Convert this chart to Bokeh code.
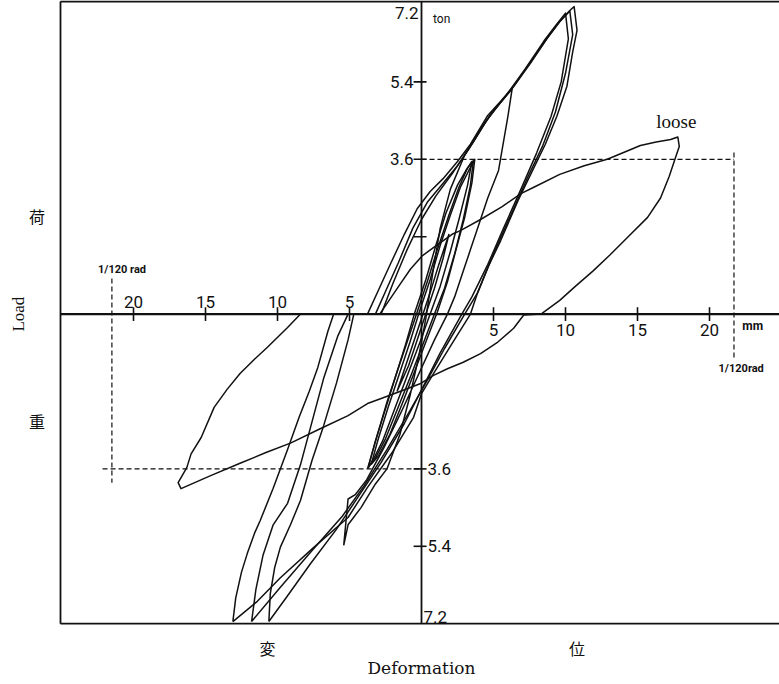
from bokeh.plotting import figure
from bokeh.models import Range1d
from bokeh.embed import file_html
from bokeh.resources import INLINE
from bokeh.core.properties import value

# ---------------- data: load (ton) against deformation (mm) ----------------
# "loose" cycle
LOOSE_X = [-2.9, -1.46, -0.76, 0.07, 0.85, 2.2, 2.7, 4.1, 5.6, 6.9, 7.8, 9.6, 11.3, 12.9,
           14.2, 15.2, 16.3, 17.3, 17.8, 17.9, 17.6, 17.2, 16.6, 15.7, 14.3, 13.1, 11.9,
           10.7, 9.6, 8.3, 7.1, 6.4, 5.3, 4.1, 2.9, 1.8, 0.8, -0.1, -1.5, -2.85, -3.75,
           -5.1, -7.0, -9.1, -10.8, -12.6, -14.6, -16.7, -16.9, -16.3, -16.0, -15.3, -14.4,
           -13.5, -12.6, -11.6, -10.7, -9.3, -8.4, -2.9]
LOOSE_Y = [0.0, 0.71, 1.05, 1.36, 1.55, 1.87, 1.94, 2.2, 2.5, 2.8, 2.95, 3.25, 3.45, 3.6,
           3.78, 3.92, 4.0, 4.06, 4.12, 3.9, 3.6, 3.2, 2.7, 2.25, 1.78, 1.38, 1.0,
           0.65, 0.32, 0.0, -0.02, -0.33, -0.65, -0.92, -1.12, -1.27, -1.43, -1.62, -1.8, -1.97, -2.08,
           -2.36, -2.66, -3.0, -3.22, -3.47, -3.75, -4.06, -3.92, -3.57, -3.25, -2.87, -2.17,
           -1.75, -1.38, -1.05, -0.77, -0.31, 0.0, 0.0]

# 7.2 ton cycles
BIG1_X = [-13.1, -12.9, -12.5, -12.1, -11.6, -11.2, -10.3, -9.3, -8.5, -7.8, -7.2, -6.5, -6.1,
          -3.75, -3.0, -2.15, -1.2, -0.3, 0.6, 1.5, 2.5, 3.4, 4.6, 5.5, 6.4, 7.8, 8.8, 9.65,
          10.3, 10.6, 10.8, 10.5, 10.1, 9.4, 8.6, 7.8, 6.7, 5.5, 4.6, 3.9, 3.4, 2.0, 0.8, 0.0,
          -0.55, -2.0, -3.75, -5.1, -7.5, -9.8, -11.4, -13.1]
BIG1_Y = [-7.15, -6.6, -6.0, -5.57, -5.1, -4.8, -4.05, -3.15, -2.4, -1.8, -1.24, -0.4, 0.0,
          0.0, 0.55, 1.17, 1.85, 2.45, 2.85, 3.15, 3.55, 3.95, 4.62, 4.95, 5.3, 5.97, 6.45, 6.83,
          7.06, 7.15, 6.6, 6.1, 5.3, 4.6, 3.95, 3.4, 2.64, 1.71, 1.08, 0.5, 0.0, -0.75, -1.4, -1.85,
          -2.4, -3.2, -4.03, -4.73, -5.43, -6.13, -6.68, -7.15]

BIG2_X = [-11.8, -11.5, -11.0, -10.3, -9.3, -8.4, -7.6, -6.8, -5.8, -5.1, -3.2, -2.4, -1.6,
          -0.6, 0.4, 1.4, 2.5, 3.6, 4.8, 6.2, 7.6, 8.7, 9.6, 10.3, 10.5, 10.0, 9.3, 8.4, 7.4,
          6.2, 5.0, 3.9, 3.0, 1.6, 0.3, -0.9, -2.4, -4.0, -5.5, -7.6, -9.8, -11.8]
BIG2_Y = [-7.15, -6.4, -5.6, -4.9, -4.4, -3.5, -2.5, -1.5, -0.5, 0.0, 0.0, 0.6, 1.2,
          2.0, 2.6, 3.0, 3.45, 4.0, 4.65, 5.2, 5.85, 6.4, 6.8, 7.05, 6.5, 5.6, 4.7, 3.9, 3.2,
          2.3, 1.4, 0.5, 0.0, -0.8, -1.6, -2.3, -3.15, -4.0, -4.7, -5.5, -6.35, -7.15]

BIG3_X = [-10.6, -10.5, -10.2, -9.8, -9.1, -8.4, -7.6, -6.8, -5.9, -5.1, -4.7, -2.8, -2.0,
          -1.0, 0.0, 1.0, 2.2, 3.3, 4.5, 5.8, 7.2, 8.5, 9.4, 10.0, 10.2, 9.7, 9.0, 8.0, 6.9,
          5.7, 4.6, 3.5, 2.8, 1.3, 0.1, -1.2, -2.8, -4.4, -5.9, -7.7, -9.3, -10.6]
BIG3_Y = [-7.15, -6.5, -5.9, -5.42, -4.9, -4.33, -3.4, -2.6, -1.6, -0.6, 0.0, 0.0, 0.7,
          1.5, 2.2, 2.75, 3.3, 3.85, 4.5, 5.05, 5.7, 6.35, 6.75, 7.0, 6.4, 5.4, 4.6, 3.75, 2.9,
          2.0, 1.15, 0.4, 0.0, -0.9, -1.7, -2.55, -3.45, -4.25, -5.0, -5.8, -6.55, -7.15]

# 5.4 ton cycle
MID_X = [-5.4, -5.1, -4.2, -3.2, -2.4, -1.5, -0.8, -0.2, 0.3, 0.8, 1.3, 2.0, 3.0, 4.2, 5.3,
         6.3, 6.0, 5.35, 4.6, 4.1, 3.4, 2.9, 2.3, 1.8, 0.9, -0.2, -1.3, -2.6, -3.8, -4.6,
         -5.1, -5.4]
MID_Y = [-5.38, -4.9, -4.5, -3.95, -3.6, -2.8, -1.9, -1.0, -0.1, 1.0, 2.0, 2.9, 3.7, 4.35, 4.85,
         5.25, 4.6, 3.34, 2.7, 2.2, 1.5, 1.0, 0.4, 0.0, -0.6, -1.4, -2.2, -3.1, -3.85, -4.2,
         -4.3, -5.38]

# 3.6 ton cycles
SMALL1_X = [-3.7, -3.2, -2.5, -1.8, -1.1, -0.5, 0.3, 1.0, 1.7, 2.5, 3.1, 3.6, 3.4, 2.9, 2.3,
            1.6, 0.9, 0.1, -0.7, -1.6, -2.5, -3.2, -3.7]
SMALL1_Y = [-3.57, -2.95, -2.2, -1.45, -0.7, 0.0, 0.8, 1.6, 2.35, 3.0, 3.35, 3.57, 3.0, 2.2, 1.4,
            0.6, 0.0, -0.7, -1.4, -2.15, -2.9, -3.35, -3.57]
SMALL2_X = [-3.5, -3.0, -2.3, -1.5, -0.8, -0.2, 0.6, 1.3, 2.0, 2.7, 3.3, 3.7, 3.5, 3.0, 2.4,
            1.8, 1.1, 0.3, -0.5, -1.3, -2.2, -3.0, -3.5]
SMALL2_Y = [-3.5, -2.9, -2.15, -1.35, -0.65, 0.0, 0.8, 1.6, 2.3, 2.95, 3.35, 3.6, 3.05, 2.25, 1.5,
            0.75, 0.05, -0.65, -1.35, -2.05, -2.8, -3.3, -3.5]
SMALL3_X = [-3.75, -3.1, -2.4, -1.6, -0.9, -0.3, 0.4, 1.1, 1.9, 2.6, 3.2, 3.5, 3.2, 2.6, 2.0,
            1.3, 0.6, -0.1, -0.9, -1.8, -2.7, -3.3, -3.75]
SMALL3_Y = [-3.6, -2.85, -2.05, -1.25, -0.55, 0.05, 0.75, 1.5, 2.3, 2.95, 3.4, 3.55, 3.0, 2.2, 1.45,
            0.65, 0.0, -0.65, -1.35, -2.15, -2.95, -3.35, -3.6]

# 1.8 ton cycle
TINY_X = [-1.7, -1.2, -0.6, 0.0, 0.6, 1.2, 1.9, 1.5, 0.9, 0.3, -0.3, -0.9, -1.7]
TINY_Y = [-1.8, -1.3, -0.7, -0.1, 0.5, 1.15, 1.85, 1.3, 0.6, 0.0, -0.6, -1.2, -1.8]

X_TICKS_NEG = [-20, -15, -10, -5]
X_LABELS_NEG = ["20", "15", "10", "5"]
X_TICKS_POS = [5, 10, 15, 20]
X_LABELS_POS = ["5", "10", "15", "20"]
Y_TICKS_POS = [1.8, 3.6, 5.4, 7.2]
Y_TICKS_NEG = [-3.6, -5.4, -7.2]
Y_LABELS_MID_POS = ["3.6", "5.4"]
Y_LABELS_MID_NEG = ["3.6", "5.4"]
GUIDE_LOAD = 3.6           # ton
DRIFT_POS = 21.7           # mm at 1/120 rad
DRIFT_NEG = -21.5

# ---------------- figure geometry ----------------
PX_MM = 14.4
PX_TON = 43.0
ORIGIN_PX = (421.0, 313.6)
W, H = 779, 684

x0 = -ORIGIN_PX[0] / PX_MM
x1 = (W - ORIGIN_PX[0]) / PX_MM
y1 = ORIGIN_PX[1] / PX_TON
y0 = -(H - ORIGIN_PX[1]) / PX_TON

FRAME_L = -25.07
FRAME_T = 7.27
FRAME_B = -7.2

p = figure(width=W, height=H, x_range=Range1d(x0, x1), y_range=Range1d(y0, y1),
           output_backend="svg", toolbar_location=None,
           x_axis_location=None, y_axis_location=None, min_border=0)
p.outline_line_color = None
p.background_fill_color = "white"
p.border_fill_color = "white"
p.xgrid.visible = False
p.ygrid.visible = False

INK = "#111111"

# frame (left, top, bottom)
p.line([FRAME_L, FRAME_L], [FRAME_B, FRAME_T], line_color=INK, line_width=1.8)
p.line([FRAME_L, x1], [FRAME_T, FRAME_T], line_color=INK, line_width=1.8)
p.line([FRAME_L, x1], [FRAME_B, FRAME_B], line_color=INK, line_width=1.8)

# axes through the origin
p.line([FRAME_L, x1], [0, 0], line_color=INK, line_width=2.2)
p.line([0, 0], [FRAME_B, FRAME_T], line_color=INK, line_width=1.8)

# tick marks
xt = X_TICKS_NEG + X_TICKS_POS
p.segment(x0=xt, y0=[-0.16] * len(xt), x1=xt, y1=[0.16] * len(xt), line_color=INK, line_width=1.6)
yt = Y_TICKS_POS[:-1] + Y_TICKS_NEG[:-1]
p.segment(x0=[-0.55] * len(yt), y0=yt, x1=[0.35] * len(yt), y1=yt, line_color=INK, line_width=1.6)

# dashed 1/120 rad guides
dash = dict(line_color=INK, line_width=1.2, line_dash="5 3")
p.line([0, DRIFT_POS], [GUIDE_LOAD, GUIDE_LOAD], **dash)
p.line([DRIFT_POS, DRIFT_POS], [3.76, -1.03], **dash)
p.line([-22.15, 0], [-GUIDE_LOAD, -GUIDE_LOAD], **dash)
p.line([DRIFT_NEG, DRIFT_NEG], [0.83, -3.92], **dash)

# hysteresis curves
cycles = [(LOOSE_X, LOOSE_Y), (BIG1_X, BIG1_Y), (BIG2_X, BIG2_Y), (BIG3_X, BIG3_Y),
          (MID_X, MID_Y), (SMALL1_X, SMALL1_Y), (SMALL2_X, SMALL2_Y), (SMALL3_X, SMALL3_Y),
          (TINY_X, TINY_Y)]
p.multi_line(xs=[c[0] for c in cycles], ys=[c[1] for c in cycles],
             line_color=INK, line_width=1.5, line_join="round")

# tick labels
num = dict(text_font=value("Roboto"), text_font_size="17px", text_color=INK)
p.text(x=X_TICKS_NEG, y=[0] * 4, text=X_LABELS_NEG, text_align="center",
       text_baseline="bottom", y_offset=-6, **num)
p.text(x=X_TICKS_POS, y=[0] * 4, text=X_LABELS_POS, text_align="center",
       text_baseline="top", y_offset=10, **num)
p.text(x=[0, 0], y=Y_TICKS_POS[1:3], text=Y_LABELS_MID_POS, text_align="right",
       text_baseline="middle", x_offset=-8, **num)
p.text(x=[0], y=[Y_TICKS_POS[3]], text=["7.2"], text_align="right",
       text_baseline="top", x_offset=-3, y_offset=2, **num)
p.text(x=[0, 0], y=Y_TICKS_NEG[:2], text=Y_LABELS_MID_NEG, text_align="left",
       text_baseline="middle", x_offset=6, **num)
p.text(x=[0], y=[Y_TICKS_NEG[2]], text=["7.2"], text_align="left",
       text_baseline="bottom", x_offset=2, y_offset=-1, **num)

small = dict(text_font=value("Roboto"), text_color=INK, text_baseline="middle")
p.text(x=[0.8], y=[6.87], text=["ton"], text_font_size="12px", text_align="left", **small)
p.text(x=[23.0], y=[-0.28], text=["mm"], text_font_size="12px", text_align="center",
       text_font_style="bold", **small)
p.text(x=[22.2], y=[-1.27], text=["1/120rad"], text_font_size="11px", text_align="center",
       text_font_style="bold", **small)
p.text(x=[-20.8], y=[1.04], text=["1/120 rad"], text_font_size="11px", text_align="center",
       text_font_style="bold", **small)

serif = dict(text_font=value("Liberation Serif"), text_color=INK,
             text_align="center", text_baseline="middle")
p.text(x=[17.7], y=[4.48], text=["loose"], text_font_size="19px", **serif)
p.text(x=[-28.0], y=[0.0], text=["Load"], text_font_size="17px", angle=1.5708, **serif)
p.text(x=[0.0], y=[-8.22], text=["Deformation"], text_font_size="17px",
       text_font=value("DejaVu Serif"), text_color=INK, text_align="center",
       text_baseline="middle")

cjk = dict(text_font=value("Noto Sans CJK JP"), text_color=INK, text_font_size="16px",
           text_align="center", text_baseline="middle")
p.text(x=[-26.7, -26.7], y=[2.29, -2.48], text=["荷", "重"], **cjk)
p.text(x=[-10.7, 10.8], y=[-7.76, -7.76], text=["変", "位"], **cjk)

open("out.html", "w").write(file_html(p, INLINE))
